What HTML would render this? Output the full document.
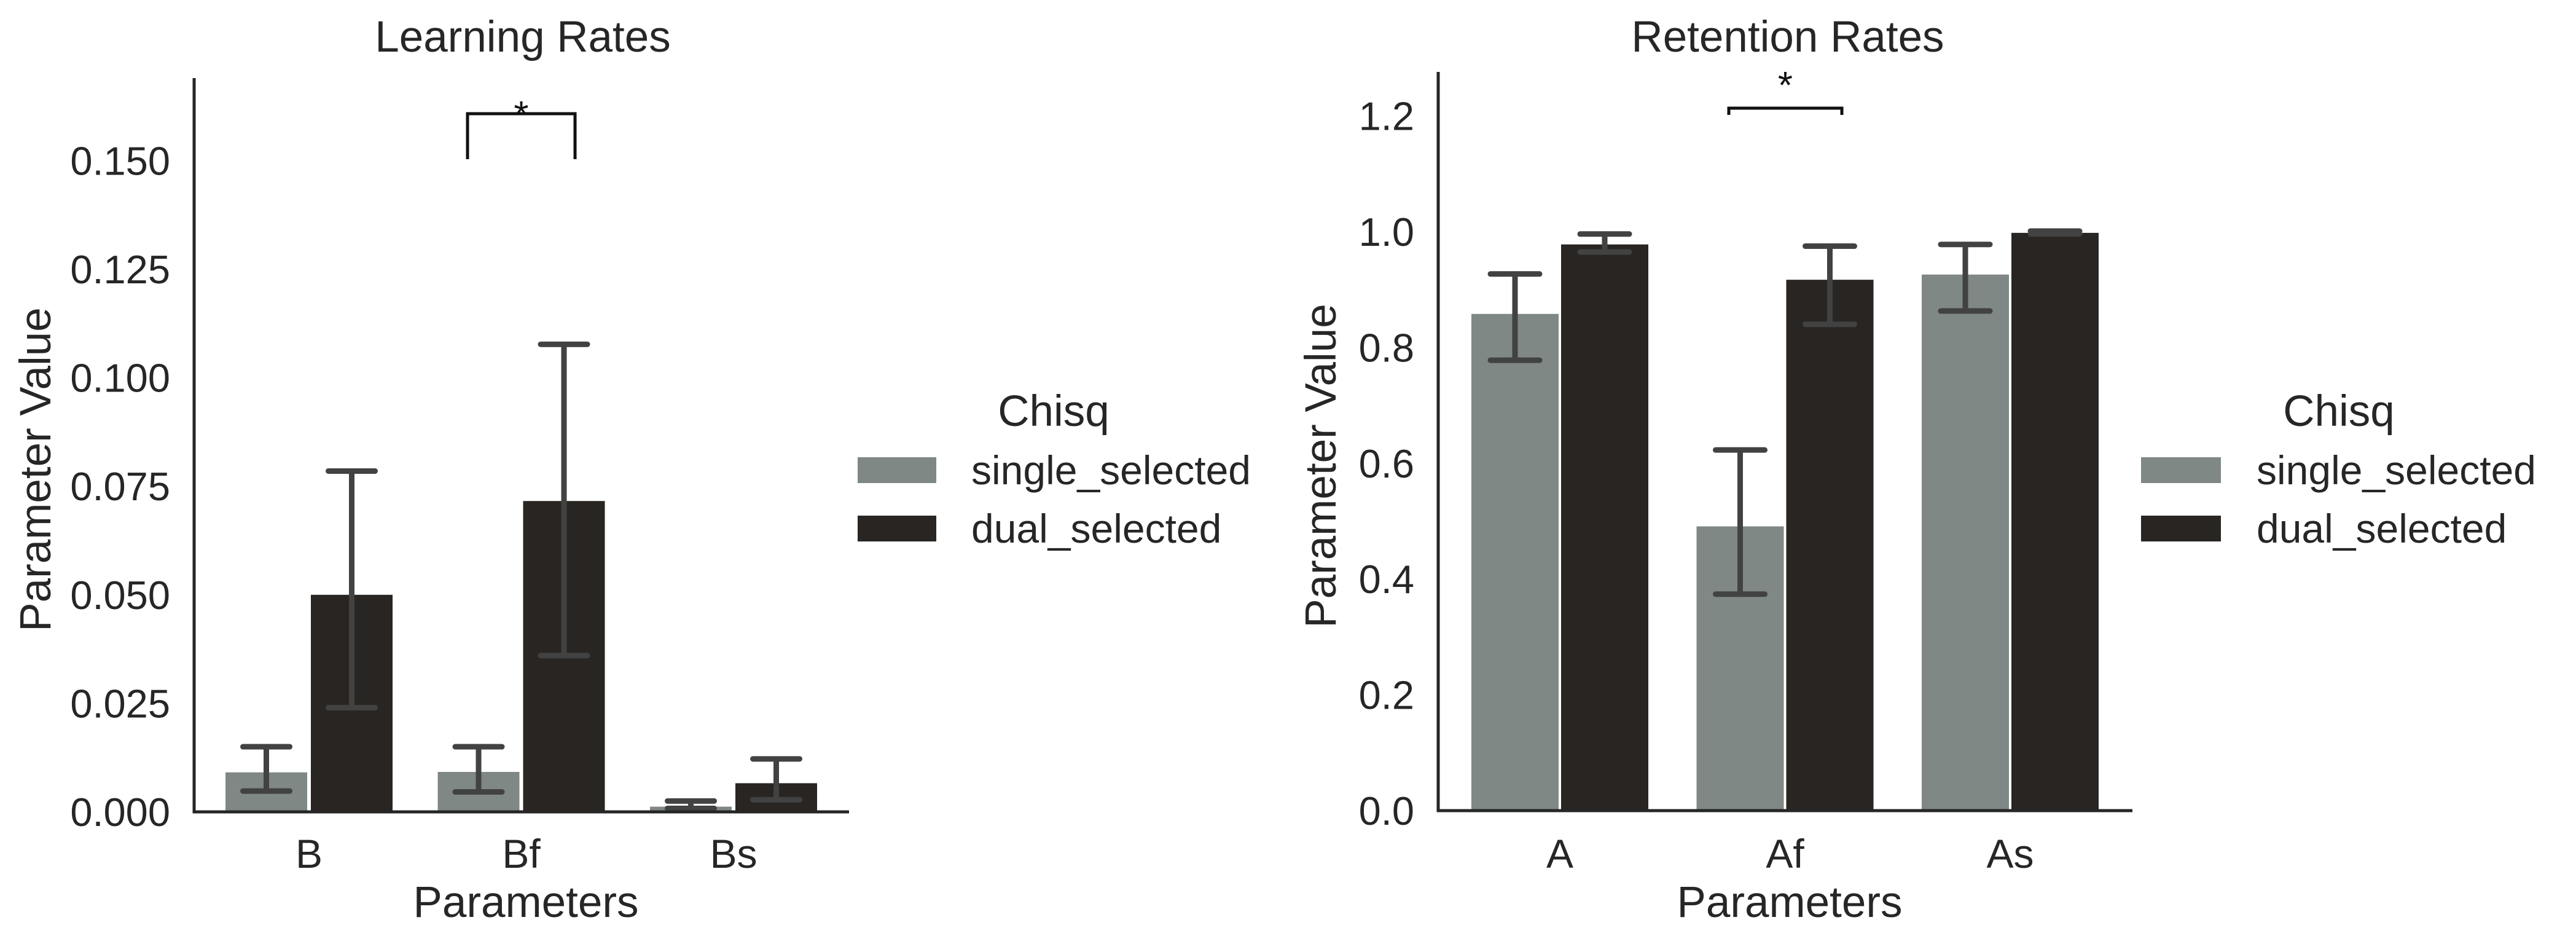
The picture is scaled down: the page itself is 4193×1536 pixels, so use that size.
<!DOCTYPE html>
<html><head><meta charset="utf-8"><style>
html,body{margin:0;padding:0;background:#fff;}
svg{display:block;font-family:"Liberation Sans",Arial,sans-serif;}
</style></head><body>
<svg id="fig" width="4193" height="1536" viewBox="0 0 4193 1536" xmlns="http://www.w3.org/2000/svg"></svg>
<script>
// Learning Rates data
const lrCategories = ["B","Bf","Bs"];
const lrSingle = [0.0091, 0.0092, 0.0012];
const lrSingleLo = [0.0048, 0.0046, 0.0008];
const lrSingleHi = [0.0150, 0.0150, 0.0025];
const lrDual = [0.0500, 0.0716, 0.0066];
const lrDualLo = [0.0240, 0.0360, 0.0028];
const lrDualHi = [0.0785, 0.1077, 0.0122];
const lrTicks = [0, 0.025, 0.05, 0.075, 0.1, 0.125, 0.15];
const lrTickLabels = ["0.000","0.025","0.050","0.075","0.100","0.125","0.150"];
// Retention Rates data
const rrCategories = ["A","Af","As"];
const rrSingle = [0.858, 0.491, 0.926];
const rrSingleLo = [0.778, 0.374, 0.863];
const rrSingleHi = [0.927, 0.623, 0.978];
const rrDual = [0.978, 0.917, 0.998];
const rrDualLo = [0.965, 0.840, 0.996];
const rrDualHi = [0.996, 0.975, 1.001];
const rrTicks = [0, 0.2, 0.4, 0.6, 0.8, 1.0, 1.2];
const rrTickLabels = ["0.0","0.2","0.4","0.6","0.8","1.0","1.2"];
const seriesNames = ["single_selected","dual_selected"];

const NS = "http://www.w3.org/2000/svg";
const svg = document.getElementById("fig");
function mk(tag, attrs, parent, text){
  const e = document.createElementNS(NS, tag);
  for (const k in attrs) e.setAttribute(k, attrs[k]);
  if (text !== undefined) e.textContent = text;
  (parent || svg).appendChild(e);
  return e;
}
const TXT = "#262626", C1 = "#7f8884", C2 = "#282522", EB = "#424242";

function panel(o){
  const g = mk("g", {});
  
  
  const y = v => o.y0 - (v / o.tickStep) * o.tickPx;
  const xc = i => o.c0 + i * o.sp;
  const bw = o.bw, off = o.off;
  o.cats.forEach((c, i) => {
    [[o.s, o.sLo, o.sHi, C1, -off, "single"], [o.d, o.dLo, o.dHi, C2, off, "dual"]].forEach(([vals, lo, hi, col, dx, nm]) => {
      const cx = xc(i) + dx;
      const r = mk("rect", {x: cx - bw/2, y: y(vals[i]), width: bw, height: o.y0 - y(vals[i]), fill: col}, g);
      
      
      const eg = mk("g", {stroke: EB, "stroke-width": 9, "stroke-linecap": "round", fill: "none"}, g);
      
      
      mk("line", {x1: cx, x2: cx, y1: y(lo[i]), y2: y(hi[i])}, eg);
      mk("line", {x1: cx - o.cap, x2: cx + o.cap, y1: y(lo[i]), y2: y(lo[i])}, eg);
      mk("line", {x1: cx - o.cap, x2: cx + o.cap, y1: y(hi[i]), y2: y(hi[i])}, eg);
    });
    const t = mk("text", {x: xc(i), y: 1412, "font-size": 66, fill: TXT, "text-anchor": "middle"}, g, c);
    
    
  });
  const ax = mk("path", {d: `M${o.ax},${o.axTop} L${o.ax},${o.y0} L${o.axEnd},${o.y0}`, stroke: "#262626", "stroke-width": 5, fill: "none"}, g);
  
  
  o.ticks.forEach((v, k) => {
    const t = mk("text", {x: o.tickRight, y: y(v) + 23, "font-size": 65, fill: TXT, "text-anchor": "end"}, g, o.tickLabels[k]);
    
    
  });
  const tt = mk("text", {x: o.titleX, y: 84, "font-size": 71, fill: TXT, "text-anchor": "middle"}, g, o.title);
  
  
  const xl = mk("text", {x: (o.ax + o.axEnd)/2 + 7, y: 1492, "font-size": 71, fill: TXT, "text-anchor": "middle"}, g, "Parameters");
  
  
  const yl = mk("text", {x: 0, y: 0, "font-size": 71, fill: TXT, "text-anchor": "middle", transform: `translate(${o.ylX},${(o.axTop+o.y0)/2 + 40}) rotate(-90)`}, g, "Parameter Value");
  
  
  const bg = mk("g", {}, g);
  
  
  mk("path", {d: `M${o.br[0]},${o.br[3]} L${o.br[0]},${o.br[2]} L${o.br[1]},${o.br[2]} L${o.br[1]},${o.br[3]}`, stroke: "#111", "stroke-width": 5, fill: "none"}, bg);
  mk("text", {x: (o.br[0]+o.br[1])/2, y: o.starY, "font-size": 62, fill: "#111", "text-anchor": "middle"}, bg, "*");
  const lg = mk("g", {}, g);
  
  
  const lt = mk("text", {x: o.legTitleX, y: 693, "font-size": 71, fill: TXT, "text-anchor": "middle"}, lg, "Chisq");
  
  
  [[C1, 744], [C2, 839]].forEach(([col, yy], k) => {
    const le = mk("g", {}, lg);
    
    
    mk("rect", {x: o.legPatch, y: yy, width: o.legPatchW, height: 42, fill: col}, le);
    mk("text", {x: o.legText, y: yy + 44, "font-size": 66, fill: TXT}, le, seriesNames[k]);
  });
}

panel({name: "learning-rates-chart", cats: lrCategories, s: lrSingle, sLo: lrSingleLo, sHi: lrSingleHi,
  d: lrDual, dLo: lrDualLo, dHi: lrDualHi, ticks: lrTicks, tickLabels: lrTickLabels, tickStep: 0.025, tickPx: 176.6,
  y0: 1321, c0: 503, sp: 345.5, bw: 133, off: 69.5, cap: 38, ax: 316, axTop: 127, axEnd: 1382, tickRight: 277,
  title: "Learning Rates", titleX: 851, ylX: 82, br: [761, 936, 185, 259], starY: 208,
  legTitleX: 1715, legPatch: 1396, legPatchW: 128, legText: 1581});

panel({name: "retention-rates-chart", cats: rrCategories, s: rrSingle, sLo: rrSingleLo, sHi: rrSingleHi,
  d: rrDual, dLo: rrDualLo, dHi: rrDualHi, ticks: rrTicks, tickLabels: rrTickLabels, tickStep: 0.2, tickPx: 188.4,
  y0: 1319, c0: 2539, sp: 366.5, bw: 142, off: 73, cap: 40, ax: 2341, axTop: 117, axEnd: 3471, tickRight: 2302,
  title: "Retention Rates", titleX: 2910, ylX: 2174, br: [2814, 2998, 176, 187], starY: 160,
  legTitleX: 3807, legPatch: 3485, legPatchW: 130, legText: 3673});
</script>
</body></html>
